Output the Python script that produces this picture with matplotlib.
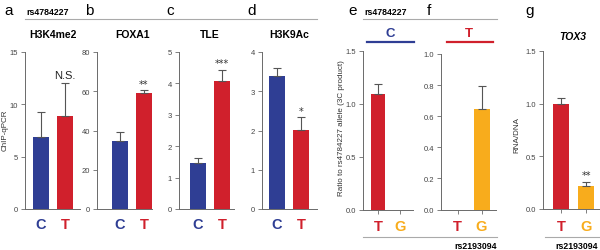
import matplotlib

matplotlib.use("Agg")

import matplotlib.pyplot as plt
from matplotlib.lines import Line2D

W, H = 600, 251

BLUE = "#2f3e94"
RED = "#d0202c"
ORANGE = "#f8ac1c"
AXIS_GREY = "#6a6a6a"
ERR_GREY = "#555555"

# panel a-d: ChIP-qPCR at rs4784227 (C vs T)
chip_titles = ["H3K4me2", "FOXA1", "TLE", "H3K9Ac"]
chip_alleles = ["C", "T"]
chip_values = [[6.9, 8.9], [34.9, 58.9], [1.47, 4.07], [3.40, 2.01]]
chip_errors = [[2.4, 3.1], [4.4, 1.5], [0.14, 0.36], [0.20, 0.33]]
chip_ymax = [15, 80, 5, 4]
chip_ticks = [[0, 5, 10, 15], [0, 20, 40, 60, 80], [0, 1, 2, 3, 4, 5], [0, 1, 2, 3, 4]]
chip_signif = ["N.S.", "**", "***", "*"]

# panel e-f: 3C product ratio, rs2193094 allele (T vs G)
threec_alleles = ["T", "G"]
threec_values = [[1.09, 0.0], [0.0, 0.646]]
threec_errors = [[0.10, 0.0], [0.0, 0.145]]
threec_ymax = [1.5, 1.0]
threec_ticks = [[0.0, 0.5, 1.0, 1.5], [0.0, 0.2, 0.4, 0.6, 0.8, 1.0]]
threec_headers = ["C", "T"]

# panel g: TOX3 RNA/DNA
tox3_alleles = ["T", "G"]
tox3_values = [1.0, 0.215]
tox3_errors = [0.05, 0.045]
tox3_ticks = [0.0, 0.5, 1.0, 1.5]

allele_colors = {"C": BLUE, "T": RED, "G": ORANGE}

fig = plt.figure(figsize=(W / 100, H / 100), dpi=100)
plt.rcParams["font.family"] = ["Liberation Sans", "DejaVu Sans"]


def px_axes(left, top, width, bottom):
    return fig.add_axes([left / W, 1 - bottom / H, width / W, (bottom - top) / H])


def px_text(x, y, s, **kw):
    fig.text(x / W, 1 - y / H, s, **kw)


def px_line(x0, x1, y, color, lw):
    fig.add_artist(Line2D([x0 / W, x1 / W], [1 - y / H, 1 - y / H], color=color, lw=lw,
                          transform=fig.transFigure))


def bar_panel(ax, alleles, values, errors, ymax, ticks, fmt, xticks_marks, offset=16.5, width=55):
    spacing = 24.0
    ax.set_xlim(-offset / spacing, (width - offset) / spacing)
    ax.set_ylim(0, ymax)
    colors = [allele_colors[a] for a in alleles]
    pos = list(range(len(alleles)))
    ax.bar(pos, values, width=16 / spacing, color=colors, zorder=2)
    for p, v, e in zip(pos, values, errors):
        if e > 0:
            ax.errorbar(p, v, yerr=[[0], [e]], fmt="none", ecolor=ERR_GREY, elinewidth=0.8,
                        capsize=2.6, capthick=0.8, zorder=3)
    for side in ["top", "right"]:
        ax.spines[side].set_visible(False)
    for side in ["left", "bottom"]:
        ax.spines[side].set_color(AXIS_GREY)
        ax.spines[side].set_linewidth(0.7)
    ax.set_yticks(ticks)
    ax.set_yticklabels([fmt % t for t in ticks])
    ax.tick_params(axis="y", length=3, width=0.6, color=AXIS_GREY, labelsize=5.5,
                   labelcolor="#444444", pad=2)
    ax.set_xticks(pos)
    ax.set_xticklabels(alleles, fontsize=10.5, fontweight="bold")
    for lab, c in zip(ax.get_xticklabels(), colors):
        lab.set_color(c)
    ax.tick_params(axis="x", length=3 if xticks_marks else 0, width=0.6, color=AXIS_GREY,
                   pad=4 if xticks_marks else 6)
    ax.set_facecolor("none")


def signif(ax, x, top, s):
    if s == "N.S.":
        ax.annotate(s, (x, top), xytext=(0, 4), textcoords="offset points", ha="center",
                    va="baseline", fontsize=8, color="#222222")
    else:
        ax.annotate(s, (x, top), xytext=(0, 2.5), textcoords="offset points", ha="center",
                    va="baseline", fontsize=7, color="#333333", family="DejaVu Sans")


# a-d
chip_left = [25, 97, 179, 262]
chip_offset = [16, 23, 19, 15]
chip_title_x = [53, 133, 210, 289]
for i in range(4):
    ax = px_axes(chip_left[i], 53, 55, 210)
    bar_panel(ax, chip_alleles, chip_values[i], chip_errors[i], chip_ymax[i], chip_ticks[i],
              "%d", False, offset=chip_offset[i])
    top = chip_values[i][1] + chip_errors[i][1]
    signif(ax, 1, top, chip_signif[i])
    px_text(chip_title_x[i], 35, chip_titles[i], ha="center", va="center", fontsize=7.5,
            fontweight="bold")

# e-f
threec_left = [363, 441]
threec_top = [52, 55]
threec_width = [50, 55]
for i in range(2):
    ax = px_axes(threec_left[i], threec_top[i], threec_width[i], 210.5)
    bar_panel(ax, threec_alleles, threec_values[i], threec_errors[i], threec_ymax[i],
              threec_ticks[i], "%.1f", True, offset=16.5)

# g
ax = px_axes(543, 52, 57, 210)
bar_panel(ax, tox3_alleles, tox3_values, tox3_errors, 1.5, tox3_ticks, "%.1f", True, offset=17.5)
signif(ax, 1, tox3_values[1] + tox3_errors[1], "**")
px_text(573, 37, "TOX3", ha="center", va="center", fontsize=7.5, fontweight="bold",
        style="italic")

# y labels
px_text(5, 130, "ChIP-qPCR", rotation=90, ha="center", va="center", fontsize=5.8,
        color="#333333")
px_text(342, 128, "Ratio to rs4784227 allele (3C product)", rotation=90, ha="center",
        va="center", fontsize=5.8, color="#333333")
px_text(517, 135, "RNA/DNA", rotation=90, ha="center", va="center", fontsize=5.8,
        color="#333333")

# panel letters
for letter, x in zip("abcdefg", [4, 85, 166, 247, 348, 427, 525]):
    px_text(x, 15, letter, ha="left", va="baseline", fontsize=11)

# SNP headers and separators
px_text(26, 12.5, "rs4784227", ha="left", va="center", fontsize=6.3, fontweight="bold")
px_text(364, 12.5, "rs4784227", ha="left", va="center", fontsize=6.3, fontweight="bold")
px_line(25, 317, 19.5, "#aaaaaa", 0.8)
px_line(363, 497, 19.5, "#aaaaaa", 0.8)

px_text(390, 34, threec_headers[0], ha="center", va="center", fontsize=9.5,
        fontweight="bold", color=allele_colors[threec_headers[0]])
px_text(469, 34, threec_headers[1], ha="center", va="center", fontsize=9.5,
        fontweight="bold", color=allele_colors[threec_headers[1]])
px_line(367, 414, 42.5, BLUE, 1.6)
px_line(447, 493, 42.5, RED, 1.6)

px_line(363, 497, 238, "#aaaaaa", 0.8)
px_line(545, 600, 238, "#aaaaaa", 0.8)
px_text(497, 246.5, "rs2193094", ha="right", va="center", fontsize=6.3, fontweight="bold")
px_text(577, 246.5, "rs2193094", ha="center", va="center", fontsize=6.3, fontweight="bold")

fig.savefig("out.png", dpi=100)
